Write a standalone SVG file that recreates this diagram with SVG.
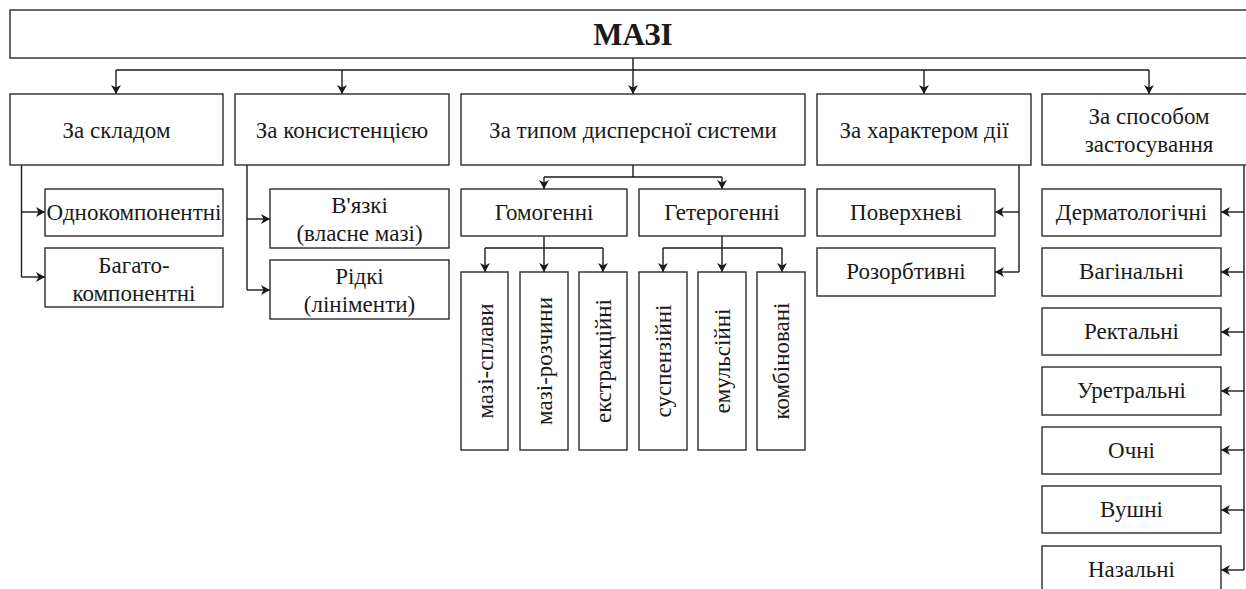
<svg xmlns="http://www.w3.org/2000/svg" width="1246" height="589" viewBox="0 0 1246 589">
<style>
rect{fill:#fff;stroke:#2b2b2b;stroke-width:1.4}
text{font-size:23px;fill:#1a1a1a;text-anchor:middle}
.t{font-size:31px;font-weight:bold}
.c path{fill:none;stroke:#1a1a1a;stroke-width:1.4}
.c path.a{marker-end:url(#ah)}
</style>
<defs>
<marker id="ah" markerUnits="userSpaceOnUse" markerWidth="12" markerHeight="12" refX="9" refY="6" orient="auto">
<path d="M0,1 L9,6 L0,11 L2.5,6 z" fill="#1a1a1a"/>
</marker>
</defs>
<rect x="-2" y="-2" width="1250" height="593" style="stroke:none;fill:#fff"/>
<g font-family="Liberation Serif, Times New Roman, serif">
<g class="c" id="connectors">
<path d="M116,70 H1149"/>
<path class="a" d="M633,58 V94"/>
<path class="a" d="M116,70 V94"/>
<path class="a" d="M342,70 V94"/>
<path class="a" d="M924,70 V94"/>
<path class="a" d="M1149,70 V94"/>
<path d="M21.5,165 V277"/>
<path class="a" d="M21.5,212 H45"/>
<path class="a" d="M21.5,277 H45"/>
<path d="M247,165 V290"/>
<path class="a" d="M247,219 H270"/>
<path class="a" d="M247,290 H270"/>
<path d="M633,165 V177 M544,177 H722"/>
<path class="a" d="M544,177 V189"/>
<path class="a" d="M722,177 V189"/>
<path d="M485,248 H603"/>
<path class="a" d="M544,236 V272"/>
<path class="a" d="M485,248 V272"/>
<path class="a" d="M603,248 V272"/>
<path d="M663,248 H782"/>
<path class="a" d="M722,236 V272"/>
<path class="a" d="M663,248 V272"/>
<path class="a" d="M782,248 V272"/>
<path d="M1019,165 V272"/>
<path class="a" d="M1019,212 H995"/>
<path class="a" d="M1019,272 H995"/>
<path d="M1244,165 V570"/>
<path class="a" d="M1244,212 H1221"/>
<path class="a" d="M1244,272 H1221"/>
<path class="a" d="M1244,332 H1221"/>
<path class="a" d="M1244,391 H1221"/>
<path class="a" d="M1244,450 H1221"/>
<path class="a" d="M1244,510 H1221"/>
<path class="a" d="M1244,570 H1221"/>
</g>
<g id="title"><rect x="10" y="10" width="1250" height="48"/><text class="t" x="633" y="45">МАЗІ</text></g>
<g id="n-sklad"><rect x="10" y="94" width="213" height="71"/><text x="116.5" y="138">За складом</text></g>
<g id="n-kons"><rect x="235" y="94" width="214" height="71"/><text x="342" y="138">За консистенцією</text></g>
<g id="n-typ"><rect x="461" y="94" width="344" height="71"/><text x="633" y="138">За типом дисперсної системи</text></g>
<g id="n-khar"><rect x="817" y="94" width="214" height="71"/><text x="924" y="138">За характером дії</text></g>
<g id="n-sposib"><rect x="1042" y="94" width="220" height="71"/><text x="1149" y="124">За способом</text><text x="1149" y="152">застосування</text></g>
<g id="n-odno"><rect x="45" y="189" width="178" height="47"/><text x="134" y="220">Однокомпонентні</text></g>
<g id="n-bagato"><rect x="45" y="248" width="178" height="59"/><text x="134" y="273">Багато-</text><text x="134" y="301">компонентні</text></g>
<g id="n-viazki"><rect x="270" y="189" width="179" height="59"/><text x="359.5" y="213">В'язкі</text><text x="359.5" y="241">(власне мазі)</text></g>
<g id="n-ridki"><rect x="270" y="260" width="179" height="59"/><text x="359.5" y="284">Рідкі</text><text x="359.5" y="312">(лініменти)</text></g>
<g id="n-homo"><rect x="461" y="189" width="166" height="47"/><text x="544" y="220">Гомогенні</text></g>
<g id="n-hetero"><rect x="639" y="189" width="166" height="47"/><text x="722" y="220">Гетерогенні</text></g>
<g id="n-splavy"><rect x="461" y="272" width="47" height="178"/><text transform="translate(485,361) rotate(-90)" x="0" y="8">мазі-сплави</text></g>
<g id="n-rozchyny"><rect x="520" y="272" width="48" height="178"/><text transform="translate(544,361) rotate(-90)" x="0" y="8">мазі-розчини</text></g>
<g id="n-ekstr"><rect x="579" y="272" width="48" height="178"/><text transform="translate(603,361) rotate(-90)" x="0" y="8">екстракційні</text></g>
<g id="n-susp"><rect x="639" y="272" width="48" height="178"/><text transform="translate(663,361) rotate(-90)" x="0" y="8">суспензійні</text></g>
<g id="n-emul"><rect x="698" y="272" width="48" height="178"/><text transform="translate(722,361) rotate(-90)" x="0" y="8">емульсійні</text></g>
<g id="n-komb"><rect x="757" y="272" width="48" height="178"/><text transform="translate(781,361) rotate(-90)" x="0" y="8">комбіновані</text></g>
<g id="n-poverkh"><rect x="817" y="189" width="178" height="47"/><text x="906" y="220">Поверхневі</text></g>
<g id="n-rozorb"><rect x="817" y="248" width="178" height="48"/><text x="906" y="279">Розорбтивні</text></g>
<g id="n-derm"><rect x="1042" y="189" width="179" height="47"/><text x="1131.5" y="220">Дерматологічні</text></g>
<g id="n-vag"><rect x="1042" y="248" width="179" height="48"/><text x="1131.5" y="279">Вагінальні</text></g>
<g id="n-rekt"><rect x="1042" y="308" width="179" height="47"/><text x="1131.5" y="339">Ректальні</text></g>
<g id="n-uretr"><rect x="1042" y="367" width="179" height="48"/><text x="1131.5" y="398">Уретральні</text></g>
<g id="n-ochni"><rect x="1042" y="427" width="179" height="47"/><text x="1131.5" y="458">Очні</text></g>
<g id="n-vushni"><rect x="1042" y="486" width="179" height="47"/><text x="1131.5" y="517">Вушні</text></g>
<g id="n-nazal"><rect x="1042" y="546" width="179" height="60"/><text x="1131.5" y="577">Назальні</text></g>
</g>
</svg>
